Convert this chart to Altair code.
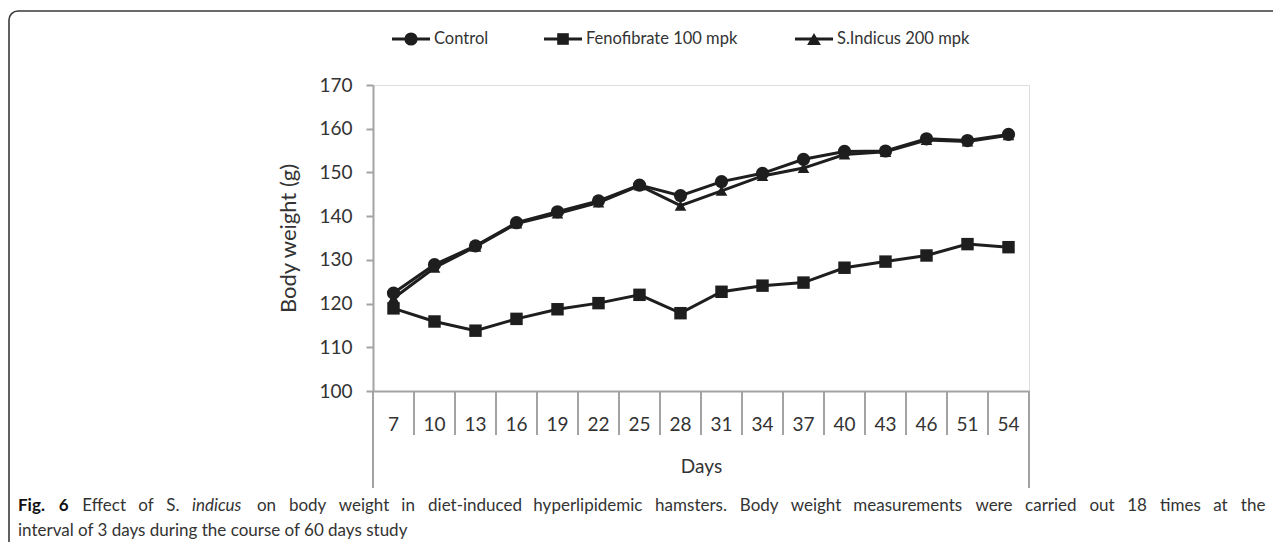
import altair as alt
import pandas as pd

# ---------------- data ----------------
days = ["7", "10", "13", "16", "19", "22", "25", "28", "31", "34", "37", "40", "43", "46", "51", "54"]
series_names = ["Control", "Fenofibrate 100 mpk", "S.Indicus 200 mpk"]
control = [122.4, 128.9, 133.2, 138.5, 141.0, 143.5, 147.1, 144.7, 147.9, 149.8, 153.0, 154.8, 154.9, 157.7, 157.3, 158.7]
fenofibrate = [118.9, 115.9, 113.8, 116.5, 118.7, 120.1, 122.0, 117.8, 122.7, 124.1, 124.8, 128.2, 129.6, 131.0, 133.6, 132.9]
s_indicus = [121.2, 128.2, 133.0, 138.3, 140.6, 143.1, 147.0, 142.4, 145.8, 149.2, 151.0, 154.1, 154.7, 157.4, 157.1, 158.5]
y_ticks = [100, 110, 120, 130, 140, 150, 160, 170]

rows = []
for name, vals in zip(series_names, [control, fenofibrate, s_indicus]):
    for d, v in zip(days, vals):
        rows.append({"Day": d, "Series": name, "Weight": v})
df = pd.DataFrame(rows)
days_df = pd.DataFrame({"Day": days})

# ---------------- styling ----------------
W, H = 656, 306
FONT = "Lato"
INK = "#1e1e1e"
AXIS = "#a3a3a3"
TXT = "#333333"

x_scale = alt.Scale(type="band", domain=days, paddingInner=0, paddingOuter=0)
y_scale = alt.Scale(domain=[100, 170], nice=False, zero=False)

x_axis = alt.Axis(
    title="Days", ticks=False, tickSize=0, domain=True, domainColor=AXIS, domainWidth=2,
    labelFont=FONT, labelFontSize=19, labelColor=TXT, labelPadding=24, labelAngle=0,
    labelOverlap=False,
    titleFont=FONT, titleFontSize=19, titleFontWeight="normal", titleColor=TXT,
    titleY=75, titleBaseline="middle", grid=False,
)
y_axis = alt.Axis(
    title="Body weight (g)", values=y_ticks, tickSize=7, tickWidth=2, tickColor=AXIS,
    domainColor=AXIS, domainWidth=2, labelFont=FONT, labelFontSize=19, labelColor=TXT,
    labelPadding=14, titleFont=FONT, titleFontSize=22, titleFontWeight="normal",
    titleColor=TXT, titleX=-85, titleY=H / 2, titleAlign="center", titleBaseline="middle",
    titleAngle=-90, grid=False,
)

X = alt.X("Day:N", sort=days, scale=x_scale, axis=x_axis, bandPosition=0.5)
Y = alt.Y("Weight:Q", scale=y_scale, axis=y_axis)

lines = alt.Chart(df).mark_line(color=INK, strokeWidth=3).encode(
    x=X, y=Y, detail="Series:N",
)
points = alt.Chart(df).mark_point(filled=True, opacity=1, color=INK).encode(
    x=X, y=Y,
    shape=alt.Shape("Series:N", scale=alt.Scale(domain=series_names,
                    range=["circle", "square", "triangle-up"]), legend=None),
    size=alt.Size("Series:N", scale=alt.Scale(domain=series_names, range=[175, 135, 190]),
                  legend=None),
)
separators = alt.Chart(days_df).mark_rule(color=AXIS, strokeWidth=2).encode(
    x=alt.X("Day:N", sort=days, scale=x_scale, bandPosition=0, axis=x_axis),
    y=alt.value(H), y2=alt.value(H + 44),
)

one = alt.Data(values=[{"k": 1}])


def vrule(x, y1, y2, color=AXIS, w=2):
    return alt.Chart(one).mark_rule(color=color, strokeWidth=w).encode(
        x=alt.value(x), y=alt.value(y1), y2=alt.value(y2))


def hrule(x1, x2, y, color=INK, w=3):
    return alt.Chart(one).mark_rule(color=color, strokeWidth=w).encode(
        x=alt.value(x1), x2=alt.value(x2), y=alt.value(y))


def text(x, y, s, size=17, weight="normal", style="normal", align="left", color=TXT):
    return alt.Chart(one).mark_text(
        align=align, baseline="middle", font=FONT, fontSize=size,
        fontWeight=weight, fontStyle=style, color=color,
    ).encode(x=alt.value(x), y=alt.value(y), text=alt.value(s))


layers = [separators, lines, points]

# outer figure frame (rounded)
layers.append(alt.Chart(one).mark_rect(
    fill="#ffffff", fillOpacity=0, stroke="#3a3a3a", strokeWidth=1.6, cornerRadius=9
).encode(x=alt.value(-364), x2=alt.value(1000), y=alt.value(-74), y2=alt.value(600)))

# category outline lines (Excel style)
layers.append(vrule(0, H, H + 97))
layers.append(vrule(W, H, H + 97))

# legend
LEG_Y = -46
legend_items = [(19, "circle", 175), (171, "square", 135), (422, "triangle-up", 190)]
for (lx, shp, sz), name in zip(legend_items, series_names):
    layers.append(hrule(lx, lx + 38, LEG_Y))
    layers.append(alt.Chart(one).mark_point(filled=True, opacity=1, color=INK, shape=shp,
                                            size=sz).encode(x=alt.value(lx + 19), y=alt.value(LEG_Y)))
    layers.append(text(lx + 42, LEG_Y, name, size=16.5))

# caption (line 1 justified)
cw = {'a': .51, 'b': .56, 'c': .46, 'd': .56, 'e': .52, 'f': .32, 'g': .50, 'h': .56, 'i': .24,
      'j': .24, 'k': .49, 'l': .24, 'm': .84, 'n': .56, 'o': .55, 'p': .56, 'q': .56, 'r': .36,
      's': .42, 't': .34, 'u': .56, 'v': .49, 'w': .75, 'x': .48, 'y': .49, 'z': .44,
      'F': .55, 'E': .56, 'S': .51, 'B': .62, '.': .24, '-': .30}
CAP_SIZE = 17


def wwidth(word, bold=False):
    w = sum(cw.get(c, .58) for c in word) * CAP_SIZE
    return w * (1.06 if bold else 1.0)


line1 = [("Fig.", "b"), ("6", "b"), ("Effect", "n"), ("of", "n"), ("S.", "n"), ("indicus", "i")]
line1 += [(w, "n") for w in "on body weight in diet-induced hyperlipidemic hamsters. Body weight "
          "measurements were carried out 18 times at the".split()]
x0, x1 = -355, 892
widths = [wwidth(w, s == "b") for w, s in line1]
gap = (x1 - x0 - sum(widths)) / (len(line1) - 1)
cx = x0
for (w, s), wd in zip(line1, widths):
    layers.append(text(cx, 421, w, size=CAP_SIZE,
                       weight="bold" if s == "b" else "normal",
                       style="italic" if s == "i" else "normal",
                       color="#111111" if s == "b" else TXT))
    cx += wd + gap
layers.append(text(x0, 446, "interval of 3 days during the course of 60 days study", size=CAP_SIZE))

chart = alt.layer(*layers).properties(
    width=W, height=H,
    autosize=alt.AutoSizeParams(type="none"),
    padding={"left": 365, "top": 77, "right": 244, "bottom": 151},
).configure_view(strokeWidth=0, stroke="transparent").configure(background="white")

chart.save("out.html", embed_options={"renderer": "svg", "actions": False})
